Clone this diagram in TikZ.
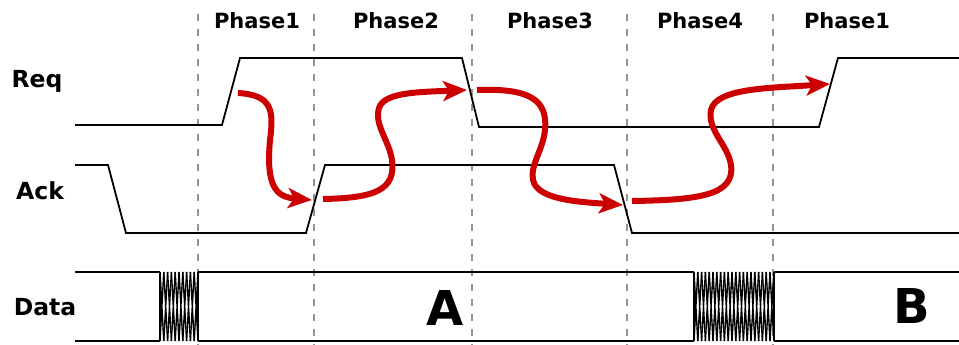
\documentclass[tikz,border=0pt]{standalone}
\usepackage{fontspec}
\setmainfont{DejaVu Sans}
\usetikzlibrary{arrows.meta}
\definecolor{hsred}{HTML}{CC0000}

\tikzset{
  wave/.style={line width=1.8pt, black},
  border/.style={line width=1.5pt, gray!85, dash pattern=on 7pt off 8pt},
  handshake/.style={line width=6pt, hsred, -{Stealth[length=24pt,width=20pt,inset=6pt]}},
  phase/.style={anchor=base, font=\bfseries\fontsize{21}{25}\selectfont},
  signal/.style={anchor=base, font=\bfseries\fontsize{23.5}{27}\selectfont},
  value/.style={anchor=base, font=\bfseries\fontsize{48}{52}\selectfont}
}

\begin{document}
\begin{tikzpicture}[x=1pt,y=-1pt]
\useasboundingbox (0,0) rectangle (959,345);

% phase borders
\foreach \x in {198,314,472,627,773}
  \draw [border] (\x,14) -- (\x,345);

\node [phase] (ph1) at (257,29) {Phase1};
\node [phase] (ph2) at (396,29) {Phase2};
\node [phase] (ph3) at (550,29) {Phase3};
\node [phase] (ph4) at (700,29) {Phase4};
\node [phase] (ph5) at (847,29) {Phase1};

\node [signal] (req) at (37,88) {Req};
\node [signal] (ack) at (40,199) {Ack};
\node [signal] (data) at (45,315) {Data};

% Req and Ack
\draw [wave] (75,125) -- (222,125) -- (240,58) -- (462,58) -- (479,127)
  -- (819,127) -- (838,58) -- (959,58);
\draw [wave] (75,165) -- (108,165) -- (126,233) -- (306,233) -- (325,165)
  -- (614,165) -- (632,233) -- (959,233);

% Data bus
\draw [wave] (75,272) -- (160,272) (198,272) -- (694,272) (774,272) -- (959,272);
\draw [wave] (75,341) -- (160,341) (198,341) -- (694,341) (774,341) -- (959,341);
\foreach \i in {0,...,9}
  \draw [line width=1.4pt] ({160+3.8*\i},272) -- ({163.8+3.8*\i},341)
    ({160+3.8*\i},341) -- ({163.8+3.8*\i},272);
\foreach \i in {0,...,20}
  \draw [line width=1.4pt] ({694+3.8*\i},272) -- ({697.8+3.8*\i},341)
    ({694+3.8*\i},341) -- ({697.8+3.8*\i},272);
\draw [wave] (160,272) -- (160,341) (198,272) -- (198,341);
\draw [wave] (694,272) -- (694,341) (774,272) -- (774,341);

\node [value] (va) at (445,325) {A};
\node [value] (vb) at (912,323) {B};

% handshake arrows
\coordinate (r1) at (238,93);
\coordinate (a1) at (312,200);
\coordinate (a1s) at (323,199);
\coordinate (r2) at (467,90);
\coordinate (r2s) at (477,90);
\coordinate (a2) at (623,205);
\coordinate (a2s) at (632,201);
\coordinate (r3) at (830,84);

\draw [handshake] (r1) .. controls (272,95) and (274,110) .. (270,140)
  .. controls (266,185) and (275,197) .. (a1);
\draw [handshake] (a1s) .. controls (375,198) and (396,190) .. (392,160)
  .. controls (389,140) and (374,125) .. (379,108)
  .. controls (384,92) and (420,92) .. (r2);
\draw [handshake] (r2s) .. controls (530,88) and (548,100) .. (545,130)
  .. controls (543,150) and (530,165) .. (533,180)
  .. controls (537,200) and (580,202) .. (a2);
\draw [handshake] (a2s) .. controls (700,200) and (735,195) .. (731,165)
  .. controls (728,145) and (707,130) .. (711,110)
  .. controls (716,88) and (770,88) .. (r3);
\end{tikzpicture}
\end{document}
